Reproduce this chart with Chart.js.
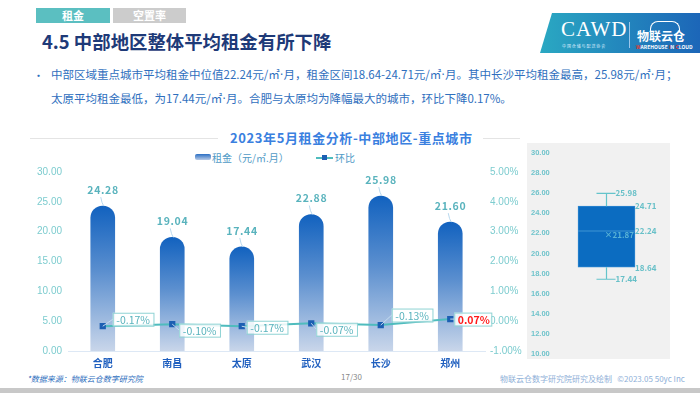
<!DOCTYPE html>
<html>
<head>
<meta charset="utf-8">
<script src="https://cdn.jsdelivr.net/npm/chart.js@4.4.1/dist/chart.umd.min.js"></script>
<style>
  body { margin: 0; width: 700px; height: 393px; position: relative; background: #fff; overflow: hidden;
         font-family: "Noto Sans CJK SC", "Noto Sans", sans-serif; }
  .abs { position: absolute; white-space: nowrap; }
  .tab { height: 15px; line-height: 15px; font-size: 11px; font-weight: bold; text-align: center; color: #fff; }
  .para { left: 51px; font-size: 11.5px; color: #2f6fbe; }
  .dot { font-family: "DejaVu Sans", sans-serif; }
  .foot { font-size: 8px; }
</style>
</head>
<body>
<div class="abs tab" style="left:36px;top:8px;width:74px;background:#5bbfc1;">租金</div>
<div class="abs tab" style="left:113px;top:8px;width:73px;background:#cccccc;">空置率</div>
<div class="abs" style="left:42px;top:28px;font-size:18.4px;font-weight:bold;color:#1e3a78;">4.5 中部地区整体平均租金有所下降</div>

<div class="abs" style="left:540px;top:13px;width:160px;height:40px;background:linear-gradient(90deg,#2aa8c2,#1c66b8);clip-path:polygon(12px 0,100% 0,100% 100%,0 100%);"></div>
<div class="abs" style="left:561px;top:17px;font-size:21px;color:#fff;font-family:'Liberation Serif',serif;letter-spacing:1px;">CAWD</div>
<div class="abs" style="left:562px;top:43px;font-size:4px;color:#dfefff;">中 国 仓 储 与 配 送 协 会</div>
<div class="abs" style="left:629px;top:22px;width:1px;height:26px;background:#9cc6ea;"></div>
<div class="abs" style="left:650px;top:21px;width:28px;height:10px;border:1px solid #fff;border-bottom:none;border-radius:8px 8px 0 0;"></div>
<div class="abs" style="left:637px;top:27px;font-size:12px;font-weight:bold;color:#fff;">物联云仓</div>
<div class="abs" style="left:636px;top:43px;font-size:5px;font-weight:bold;color:#fff;"><span style="color:#e53935">W</span>AREHOUSE <span style="color:#e53935">I</span>N <span style="color:#e53935">C</span>LOUD</div>

<div class="abs" style="left:33px;top:67px;font-size:11px;color:#2f6fbe;">•</div>
<div class="abs para" style="top:66px;">中部区域重点城市平均租金中位值22.24元/㎡<span class="dot">·</span>月，租金区间18.64-24.71元/㎡<span class="dot">·</span>月。其中长沙平均租金最高，25.98元/㎡<span class="dot">·</span>月；</div>
<div class="abs para" style="top:90px;">太原平均租金最低，为17.44元/㎡<span class="dot">·</span>月。合肥与太原均为降幅最大的城市，环比下降0.17%。</div>

<div class="abs" style="left:30px;top:138px;width:188px;height:1px;background:#e4e4e4;"></div>
<div class="abs" style="left:483px;top:138px;width:37px;height:1px;background:#e4e4e4;"></div>
<div class="abs" style="left:230px;top:128px;font-size:13px;font-weight:bold;color:#3a80df;letter-spacing:0.6px;">2023年5月租金分析-中部地区-重点城市</div>

<div class="abs" style="left:195px;top:154px;width:16px;height:6px;background:linear-gradient(180deg,#2b6fc4,#b9cbe6);border-radius:2px;"></div>
<div class="abs" style="left:212px;top:150px;font-size:10px;color:#4f9ac6;">租金（元/㎡.月）</div>
<div class="abs" style="left:316px;top:157px;width:17px;height:2px;background:#4fbcbe;"></div>
<div class="abs" style="left:322px;top:155px;width:5px;height:5px;background:#1c5fb3;"></div>
<div class="abs" style="left:335px;top:150px;font-size:10px;color:#4f9ac6;">环比</div>

<div class="abs" style="left:30px;top:160px;width:495px;height:210px;"><canvas id="mainChart"></canvas></div>
<div class="abs" style="left:527px;top:143px;width:143px;height:216px;background:#f1f1f1;"><canvas id="boxChart"></canvas></div>

<div class="abs foot" style="left:27px;top:373px;color:#2f6fbe;font-style:italic;">*数据来源：物联云仓数字研究院</div>
<div class="abs foot" style="left:341px;top:371px;color:#888;">17/30</div>
<div class="abs foot" style="left:500px;top:373px;color:#8fb0d8;">物联云仓数字研究院研究及绘制 &nbsp; ©2023.05 50yc Inc</div>
<div class="abs" style="left:0;top:388px;width:700px;height:5px;background:#c8c8c8;"></div>

<script>
var Cities = ['合肥', '南昌', '太原', '武汉', '长沙', '郑州'];
var Rents = [24.28, 19.04, 17.44, 22.88, 25.98, 21.60];
var Changes = [-0.17, -0.10, -0.17, -0.07, -0.13, 0.07];
var BoxValues = [17.44, 18.64, 22.24, 24.71, 25.98]; // min, q1, median, q3, max
var BoxMean = 21.87;

var tickColor = '#7dcccf';
var tealText = '#59b3bd';

// labels above bars and boxes beside line points
var labelPlugin = {
    id: 'labelPlugin',
    afterDatasetsDraw(chart) {
        var ctx = chart.ctx;
        var bars = chart.getDatasetMeta(0).data;
        var pts = chart.getDatasetMeta(1).data;
        // where each change box sits relative to its point
        var offX = [10, 7, 5, 5, 11, 4];
        var offY = [-7, 6, 1, 6, -10, 0];
        ctx.save();
        ctx.font = 'bold 10.5px "Noto Sans CJK SC"';
        ctx.textAlign = 'center';
        ctx.textBaseline = 'middle';
        bars.forEach((b, i) => {
            ctx.fillStyle = tealText;
            ctx.fillText(Rents[i].toFixed(2).split('').join(String.fromCharCode(8202)), b.x, b.y - 16);
            ctx.strokeStyle = '#b8d8ee';
            ctx.lineWidth = 1;
            ctx.beginPath();
            ctx.moveTo(b.x - 2, b.y - 9);
            ctx.quadraticCurveTo(b.x - 1, b.y - 3, b.x + 1, b.y);
            ctx.stroke();
        });
        ctx.font = '10.5px "Noto Sans CJK SC"';
        ctx.textAlign = 'left';
        pts.forEach((p, i) => {
            var txt = Changes[i].toFixed(2) + '%';
            var w = ctx.measureText(txt).width + 7;
            var h = 13;
            var bx = p.x + offX[i];
            var by = p.y + offY[i] - h / 2;
            ctx.strokeStyle = '#c4dcef';
            ctx.beginPath();
            ctx.moveTo(p.x, p.y);
            ctx.lineTo(bx, by + h / 2);
            ctx.stroke();
            ctx.fillStyle = 'rgba(255,255,255,0.85)';
            ctx.fillRect(bx, by, w, h);
            ctx.strokeStyle = '#8fd3d4';
            ctx.lineWidth = 1;
            ctx.strokeRect(bx + 0.5, by + 0.5, w, h);
            ctx.fillStyle = Changes[i] > 0 ? '#ff1a1a' : tealText;
            if (Changes[i] > 0) ctx.font = 'bold 10.5px "Noto Sans CJK SC"';
            ctx.fillText(txt, bx + 3.5, by + h / 2 + 1);
        });
        ctx.restore();
    }
};

var mainChart = new Chart(document.getElementById('mainChart'), {
    type: 'bar',
    data: {
        labels: Cities,
        datasets: [{
            label: '租金（元/㎡.月）',
            data: Rents,
            yAxisID: 'y',
            barThickness: 24,
            borderRadius: { topLeft: 12, topRight: 12 },
            borderSkipped: 'bottom',
            backgroundColor: function (c) {
                var chart = c.chart;
                var area = chart.chartArea;
                if (!area) return '#1565c0';
                var top = chart.scales.y.getPixelForValue(Rents[c.dataIndex]);
                var g = chart.ctx.createLinearGradient(0, top, 0, area.bottom);
                g.addColorStop(0, '#1262bf');
                g.addColorStop(0.45, '#5b8fcf');
                g.addColorStop(1, '#c9d6ea');
                return g;
            },
            order: 2
        }, {
            type: 'line',
            label: '环比',
            data: Changes,
            yAxisID: 'y1',
            borderColor: '#4fbcbe',
            borderWidth: 2,
            pointStyle: 'rect',
            pointRadius: 3,
            pointBackgroundColor: '#1c5fb3',
            pointBorderColor: '#1c5fb3',
            tension: 0,
            order: 1
        }]
    },
    options: {
        responsive: true,
        maintainAspectRatio: false,
        animation: false,
        layout: { padding: { top: 6, bottom: 0 } },
        plugins: { legend: { display: false }, tooltip: { enabled: false } },
        scales: {
            x: {
                grid: { display: false, tickLength: 5 },
                border: { color: '#dde8f5' },
                ticks: { color: '#1f5fbf', font: { size: 10, weight: 'bold', family: 'Noto Sans CJK SC' }, padding: 1 }
            },
            y: {
                position: 'left',
                min: 0, max: 30,
                grid: { display: false, drawTicks: false },
                border: { display: false },
                afterFit: function (s) { s.width = 38; },
                ticks: { stepSize: 5, color: tickColor, font: { size: 10 }, padding: 6,
                    callback: v => v.toFixed(2) }
            },
            y1: {
                position: 'right',
                min: -1, max: 5,
                grid: { display: false, drawTicks: false },
                border: { display: false },
                afterFit: function (s) { s.width = 40; },
                ticks: { stepSize: 1, color: tickColor, font: { size: 10 }, padding: 5,
                    callback: v => v.toFixed(2) + '%' }
            }
        }
    },
    plugins: [labelPlugin]
});

// whiskers, median line and value labels for the box
var boxPlugin = {
    id: 'boxPlugin',
    afterDatasetsDraw(chart) {
        var ctx = chart.ctx;
        var y = chart.scales.y;
        var bar = chart.getDatasetMeta(0).data[0];
        var cx = bar.x, half = bar.width / 2;
        var py = v => y.getPixelForValue(v);
        ctx.save();
        ctx.strokeStyle = '#64c4cb';
        ctx.lineWidth = 1.2;
        ctx.beginPath();
        ctx.moveTo(cx, py(BoxValues[4])); ctx.lineTo(cx, py(BoxValues[3]));
        ctx.moveTo(cx, py(BoxValues[1])); ctx.lineTo(cx, py(BoxValues[0]));
        ctx.moveTo(cx - 10, py(BoxValues[4])); ctx.lineTo(cx + 9, py(BoxValues[4]));
        ctx.moveTo(cx - 10, py(BoxValues[0])); ctx.lineTo(cx + 9, py(BoxValues[0]));
        ctx.stroke();
        ctx.strokeStyle = '#3f93d3';
        ctx.beginPath();
        ctx.moveTo(cx - half, py(BoxValues[2])); ctx.lineTo(cx + half, py(BoxValues[2]));
        ctx.stroke();
        ctx.font = 'bold 8px "Noto Sans CJK SC"';
        ctx.textBaseline = 'middle';
        ctx.textAlign = 'left';
        ctx.fillStyle = '#68c0c8';
        ctx.fillText(BoxValues[4].toFixed(2), cx + 9, py(BoxValues[4]));
        ctx.fillText(BoxValues[0].toFixed(2), cx + 9, py(BoxValues[0]));
        ctx.fillText(BoxValues[3].toFixed(2), cx + half, py(BoxValues[3]));
        ctx.fillText(BoxValues[2].toFixed(2), cx + half, py(BoxValues[2]));
        ctx.fillText(BoxValues[1].toFixed(2), cx + half, py(BoxValues[1]) + 1);
        ctx.fillStyle = '#5ab3d6';
        ctx.fillText('×' + BoxMean.toFixed(2), cx - 2, py(BoxMean));
        ctx.restore();
    }
};

var boxChart = new Chart(document.getElementById('boxChart'), {
    type: 'bar',
    data: {
        labels: [''],
        datasets: [{
            data: [[BoxValues[1], BoxValues[3]]],
            backgroundColor: '#0b6cc1',
            borderColor: '#2d86d0',
            borderWidth: 1,
            borderSkipped: false,
            barThickness: 57
        }]
    },
    options: {
        responsive: true,
        maintainAspectRatio: false,
        animation: false,
        layout: { padding: { top: 10, bottom: 5, left: 4, right: 14 } },
        plugins: { legend: { display: false }, tooltip: { enabled: false } },
        scales: {
            x: { display: false },
            y: {
                min: 10, max: 30,
                grid: { display: false, drawTicks: false },
                border: { display: false },
                afterFit: function (s) { s.width = 26; },
                ticks: { stepSize: 2, color: '#6fc3cb', font: { size: 7.5, weight: 'bold' }, padding: 0,
                    crossAlign: 'far', callback: v => v.toFixed(2) }
            }
        }
    },
    plugins: [boxPlugin]
});
</script>
</body>
</html>
